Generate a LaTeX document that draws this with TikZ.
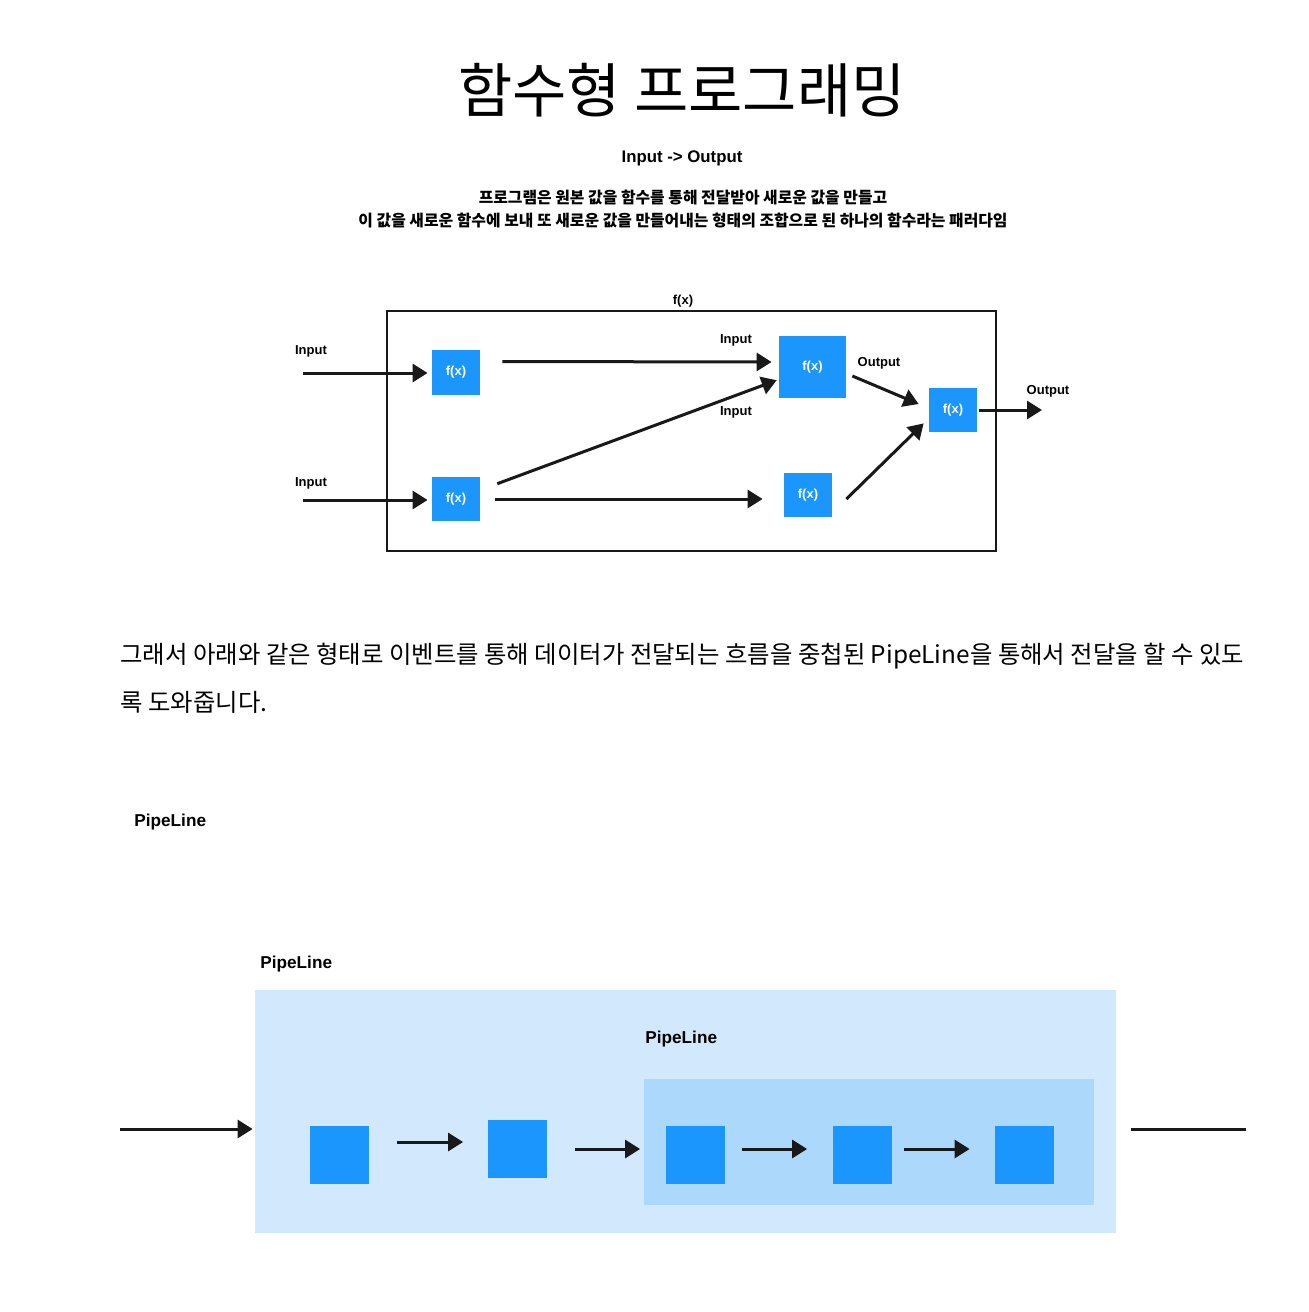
\documentclass[tikz,border=0pt]{standalone}
\usepackage{fontspec}
\setmainfont{Liberation Sans}
\newfontfamily\kr{Noto Sans CJK KR}
\usetikzlibrary{arrows.meta,calc}
\definecolor{fxblue}{RGB}{27,150,252}
\definecolor{pipeouter}{RGB}{210,233,253}
\definecolor{pipeinner}{RGB}{172,216,251}

\begin{document}
\begin{tikzpicture}[x=0.5pt,y=-0.5pt]
    \tikzstyle{fxbox} = [rectangle, fill=fxblue, text=white, font=\bfseries\fontsize{6.5}{7}\selectfont, inner sep=0pt]
    \tikzstyle{lbl} = [font=\bfseries\fontsize{6.5}{7}\selectfont, inner sep=0pt]
    \tikzstyle{flow} = [draw=black!90, line width=1.5pt, -{Triangle[length=7.5pt,width=9pt]}]
    \tikzstyle{pipesq} = [rectangle, fill=fxblue, minimum width=29.5pt, minimum height=29pt, inner sep=0pt]
    \tikzstyle{pipelbl} = [font=\bfseries\fontsize{8.6}{10}\selectfont, anchor=west, inner sep=0pt]

    \useasboundingbox (0,0) rectangle (1308,1312);
    \fill[white] (0,0) rectangle (1308,1312);

    % Title and description
    \node[font=\kr\fontsize{29.5}{32}\selectfont] (title) at (682,90) {함수형 프로그래밍};
    \node[font=\bfseries\fontsize{8.4}{10}\selectfont] (io) at (682,158) {Input -> Output};
    \node[font=\kr\bfseries\fontsize{7.93}{9}\selectfont] (desc1) at (683,198) {프로그램은 원본 값을 함수를 통해 전달받아 새로운 값을 만들고};
    \node[font=\kr\bfseries\fontsize{7.93}{9}\selectfont] (desc2) at (683,221) {이 값을 새로운 함수에 보내 또 새로운 값을 만들어내는 형태의 조합으로 된 하나의 함수라는 패러다임};

    % Function composition
    \draw[black!90, line width=1.2pt] (387,311) rectangle (996,551);
    \node[lbl] (fxtitle) at (683,301) {f(x)};

    \node[fxbox, minimum width=24pt, minimum height=22.5pt] (fa) at (456,372.5) {f(x)};
    \node[fxbox, minimum width=24pt, minimum height=22pt] (fb) at (456,499) {f(x)};
    \node[fxbox, minimum width=33.5pt, minimum height=31pt] (fc) at (812.5,367) {f(x)};
    \node[fxbox, minimum width=24pt, minimum height=22pt] (fd) at (808,495) {f(x)};
    \node[fxbox, minimum width=24pt, minimum height=22pt] (fe) at (953,410) {f(x)};

    \node[lbl] (inlbl1) at (311,351) {Input};
    \node[lbl] (inlbl2) at (311,483) {Input};
    \node[lbl] (inlbl3) at (736,340) {Input};
    \node[lbl] (inlbl4) at (736,412) {Input};
    \node[lbl] (outlbl1) at (879,363) {Output};
    \node[lbl] (outlbl2) at (1048,391) {Output};

    % Arrows
    \coordinate (in1) at (303,373);
    \coordinate (in2) at (303,500);
    \coordinate (fxout) at (1042,410);
    \draw[flow, shorten >=2pt] (in1) -- (in1 -| fa.west);
    \draw[flow, shorten >=2pt] (in2) -- (in2 -| fb.west);
    \draw[flow] ($(fa.east)+(22,-11)$) -- ($(fc.west)+(-7,-5)$);
    \draw[flow, shorten <=9pt, shorten >=1pt] (fb) -- (fc);
    \draw[flow, shorten <=7.5pt, shorten >=10.5pt] (fb.east) -- (fb.east -| fd.west);
    \draw[flow] ($(fc.east)+(6,9)$) -- ($(fe.west)+(-10,-6)$);
    \draw[flow] ($(fd.east)+(14,4)$) -- ($(fe.south west)+(-5,-9)$);
    \draw[flow] ($(fe.east)+(2,0)$) -- (fxout);

    % Paragraph
    \node[font=\kr\fontsize{12.2}{14}\selectfont, anchor=west, inner sep=0pt] (para1) at (120,656) {그래서 아래와 같은 형태로 이벤트를 통해 데이터가 전달되는 흐름을 중첩된 PipeLine을 통해서 전달을 할 수 있도};
    \node[font=\kr\fontsize{12.2}{14}\selectfont, anchor=west, inner sep=0pt] (para2) at (120,702) {록 도와줍니다.};

    % Nested pipelines
    \node[pipelbl] (pipetitle) at (134,822) {PipeLine};
    \node[pipelbl] (outerlbl) at (260,964) {PipeLine};
    \node[fill=pipeouter, minimum width=430.5pt, minimum height=121.5pt, inner sep=0pt] (outer) at (685.5,1111.5) {};
    \node[pipelbl] (innerlbl) at (645,1039) {PipeLine};
    \node[fill=pipeinner, minimum width=225pt, minimum height=63pt, inner sep=0pt] (inner) at (869,1142) {};

    \node[pipesq] (s1) at (339.5,1155) {};
    \node[pipesq] (s2) at (517,1148.5) {};
    \node[pipesq] (s3) at (695,1155) {};
    \node[pipesq] (s4) at (862,1155) {};
    \node[pipesq] (s5) at (1024.5,1155) {};

    \coordinate (pin) at (120,1129);
    \coordinate (pout) at (1246,1129);
    \draw[flow, shorten >=1pt] (pin) -- (pin -| outer.west);
    \draw[flow] ($(s1.east)+(28,-13)$) -- ($(s2.west)+(-24,-6.5)$);
    \draw[flow] ($(s2.east)+(28,0.5)$) -- ($(s3.west)+(-25,-6)$);
    \draw[flow] ($(s3.east)+(17,-6)$) -- ($(s4.west)+(-25,-6)$);
    \draw[flow] ($(s4.east)+(12,-6)$) -- ($(s5.west)+(-25,-6)$);
    \draw[black!90, line width=1.5pt] ($(outer.east |- pin)+(15,0)$) -- (pout);
\end{tikzpicture}
\end{document}
